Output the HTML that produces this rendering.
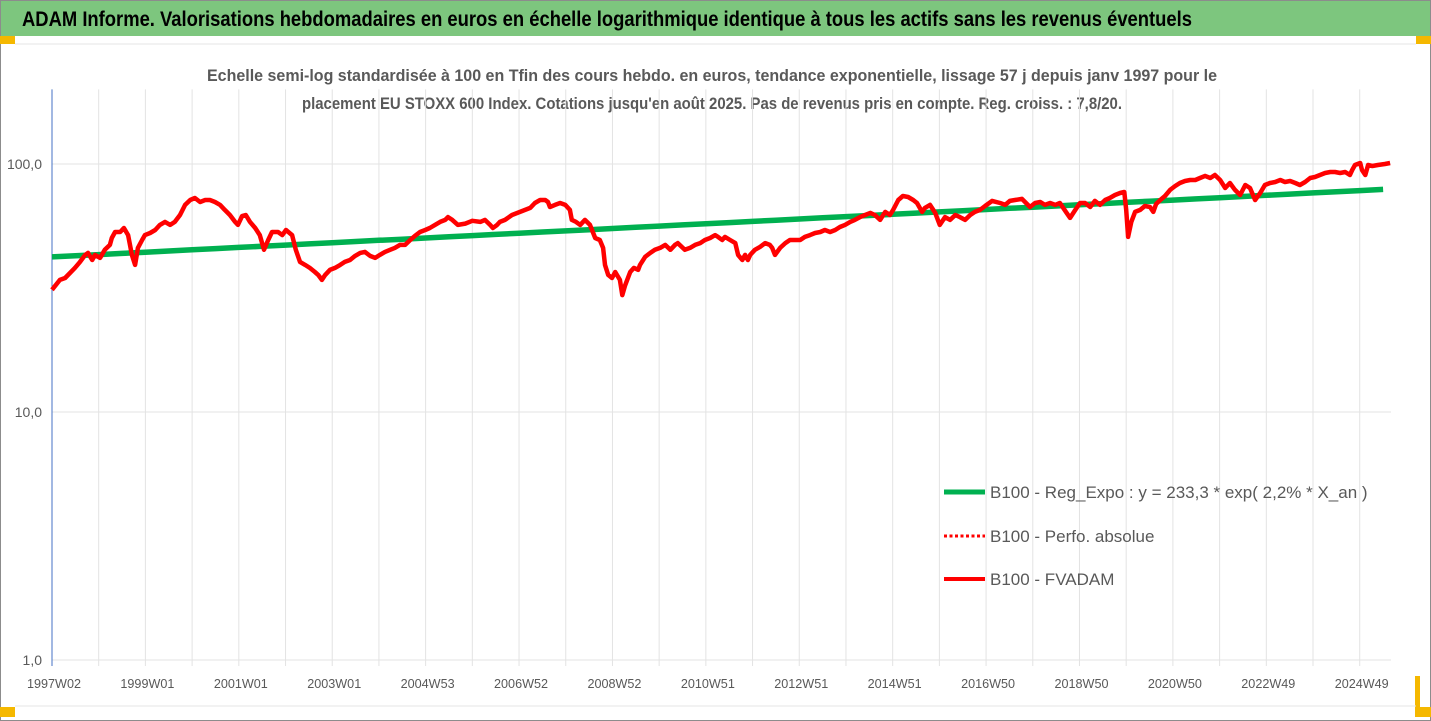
<!DOCTYPE html>
<html><head><meta charset="utf-8"><style>
html,body{margin:0;padding:0;background:#fff}
svg{display:block;font-family:"Liberation Sans",sans-serif}
</style></head><body>
<svg id="chart" width="1431" height="721" viewBox="0 0 1431 721">
<rect x="0.5" y="0.5" width="1430" height="720" fill="#fff" stroke="#8c8c8c"/>
<rect x="1" y="1" width="1429" height="35" fill="#7dc67e"/>
<text x="22" y="26" font-size="21" font-weight="bold" fill="#000" textLength="1170" lengthAdjust="spacingAndGlyphs">ADAM Informe. Valorisations hebdomadaires en euros en échelle logarithmique identique à tous les actifs sans les revenus éventuels</text>
<rect x="0" y="36" width="15" height="8" fill="#f5b800"/>
<rect x="1416" y="36" width="15" height="8" fill="#f5b800"/>
<rect x="0" y="707" width="15" height="10" fill="#f5b800"/>
<rect x="1415" y="676" width="5" height="40" fill="#f5b800"/>
<rect x="1415" y="707" width="16" height="10" fill="#f5b800"/>
<line x1="15" y1="44" x2="1416" y2="44" stroke="#e6e6e6"/>
<line x1="15" y1="706" x2="1416" y2="706" stroke="#e6e6e6"/>
<text x="712" y="81" font-size="17" font-weight="bold" fill="#595959" text-anchor="middle" textLength="1010" lengthAdjust="spacingAndGlyphs">Echelle semi-log standardisée à 100 en Tfin des cours hebdo. en euros, tendance exponentielle, lissage 57 j depuis janv 1997 pour le</text>
<text x="712" y="109" font-size="17" font-weight="bold" fill="#595959" text-anchor="middle" textLength="820" lengthAdjust="spacingAndGlyphs">placement EU STOXX 600 Index. Cotations jusqu'en août 2025. Pas de revenus pris en compte. Reg. croiss. : 7,8/20.</text>
<g id="grid"></g>
<g id="axes"></g>
<g id="series"></g>
<g>
<line x1="944" y1="492" x2="985" y2="492" stroke="#00b050" stroke-width="5"/>
<text x="990" y="498" font-size="17" fill="#595959">B100 - Reg_Expo : y = 233,3 * exp( 2,2% *  X_an )</text>
<line x1="944" y1="536" x2="985" y2="536" stroke="#ff0000" stroke-width="3" stroke-dasharray="3,2.5"/>
<text x="990" y="542" font-size="17" fill="#595959">B100 - Perfo. absolue</text>
<line x1="944" y1="579" x2="985" y2="579" stroke="#ff0000" stroke-width="4"/>
<text x="990" y="585" font-size="17" fill="#595959">B100 - FVADAM</text>
</g>
</svg>
<script>
const years = [1997.00,1997.17,1997.28,1997.49,1997.60,1997.71,1997.77,1997.86,1997.92,1998.03,1998.13,1998.24,1998.28,1998.35,1998.46,1998.54,1998.63,1998.71,1998.78,1998.84,1998.93,1998.99,1999.10,1999.21,1999.31,1999.42,1999.53,1999.63,1999.74,1999.85,1999.96,2000.06,2000.17,2000.28,2000.38,2000.49,2000.60,2000.70,2000.81,2000.92,2000.98,2001.07,2001.15,2001.24,2001.35,2001.45,2001.54,2001.63,2001.71,2001.84,2001.93,2002.01,2002.14,2002.22,2002.31,2002.42,2002.52,2002.63,2002.70,2002.78,2002.85,2002.95,2003.06,2003.17,2003.27,2003.38,2003.49,2003.60,2003.70,2003.81,2003.92,2004.02,2004.13,2004.24,2004.34,2004.45,2004.56,2004.67,2004.77,2004.88,2004.99,2005.09,2005.20,2005.31,2005.42,2005.48,2005.57,2005.69,2005.85,2006.00,2006.17,2006.27,2006.38,2006.44,2006.53,2006.59,2006.70,2006.85,2007.02,2007.13,2007.24,2007.34,2007.45,2007.56,2007.62,2007.66,2007.77,2007.88,2007.99,2008.09,2008.13,2008.22,2008.31,2008.41,2008.52,2008.63,2008.73,2008.80,2008.84,2008.91,2008.99,2009.06,2009.16,2009.21,2009.27,2009.38,2009.46,2009.55,2009.59,2009.70,2009.81,2009.91,2010.02,2010.13,2010.24,2010.34,2010.40,2010.55,2010.66,2010.77,2010.88,2010.98,2011.09,2011.20,2011.26,2011.35,2011.41,2011.52,2011.63,2011.69,2011.78,2011.84,2011.90,2011.95,2012.05,2012.16,2012.27,2012.37,2012.42,2012.48,2012.59,2012.70,2012.80,2013.02,2013.12,2013.23,2013.34,2013.45,2013.55,2013.66,2013.77,2013.87,2013.98,2014.09,2014.19,2014.30,2014.41,2014.52,2014.62,2014.73,2014.84,2014.94,2015.01,2015.12,2015.22,2015.33,2015.44,2015.52,2015.63,2015.69,2015.80,2015.91,2016.01,2016.12,2016.23,2016.34,2016.44,2016.55,2016.66,2016.76,2016.87,2016.98,2017.13,2017.30,2017.41,2017.51,2017.62,2017.77,2017.94,2018.05,2018.16,2018.26,2018.37,2018.48,2018.58,2018.71,2018.80,2018.91,2019.01,2019.12,2019.23,2019.33,2019.44,2019.55,2019.65,2019.76,2019.87,2019.96,2020.00,2020.04,2020.11,2020.19,2020.30,2020.40,2020.51,2020.58,2020.64,2020.73,2020.83,2020.94,2021.05,2021.15,2021.26,2021.37,2021.48,2021.58,2021.69,2021.80,2021.90,2022.01,2022.12,2022.22,2022.33,2022.44,2022.55,2022.65,2022.76,2022.87,2022.97,2023.08,2023.19,2023.30,2023.40,2023.51,2023.62,2023.72,2023.83,2023.94,2024.04,2024.15,2024.26,2024.37,2024.47,2024.58,2024.69,2024.79,2024.84,2024.90,2025.01,2025.05,2025.12,2025.18,2025.27,2025.39,2025.54,2025.65];
const fvadam = [31.1,34.1,34.7,38.1,40.3,43.0,43.8,41.0,43.0,41.8,45.1,47.2,50.3,53.2,53.2,55.2,51.7,43.0,39.2,45.9,49.4,51.7,52.7,54.2,56.8,58.4,56.8,58.4,62.3,68.4,71.6,72.9,70.3,71.6,71.6,70.3,68.4,65.3,62.3,58.4,56.8,61.7,62.3,58.4,55.2,51.7,45.1,49.4,53.2,53.2,51.7,54.2,51.7,45.1,40.3,39.2,38.1,36.7,35.7,34.1,35.7,37.4,38.1,39.2,40.3,41.0,42.6,43.8,44.2,42.6,41.8,43.0,44.2,45.1,45.9,47.2,47.2,49.4,51.3,53.2,54.2,55.2,56.8,58.4,59.5,61.1,59.5,56.8,57.5,59.0,58.4,59.5,56.8,55.2,56.8,58.4,59.5,62.3,64.1,65.3,66.5,69.6,71.6,71.6,70.3,67.1,68.4,69.6,68.4,65.3,59.5,58.4,56.8,59.5,56.8,50.3,49.4,45.9,39.2,35.7,34.7,36.7,34.1,29.6,32.4,36.7,38.1,37.4,39.2,42.2,43.8,45.1,45.9,47.2,45.1,47.2,48.0,45.1,45.9,47.2,48.0,49.4,50.3,51.7,50.8,49.4,50.8,49.4,48.0,43.0,41.0,43.0,41.0,43.0,45.1,46.3,48.0,47.2,45.9,43.0,45.9,48.0,49.4,49.4,50.8,51.7,52.7,53.2,54.2,53.2,54.2,55.7,56.8,58.4,59.5,61.1,62.3,63.5,62.3,59.5,64.1,62.3,65.3,71.6,74.3,73.6,71.6,69.6,64.1,66.5,68.4,63.5,56.8,61.1,59.5,62.3,61.1,59.5,62.3,64.1,65.3,67.7,71.0,69.6,68.4,71.0,71.6,72.3,67.1,69.6,70.3,68.4,69.6,68.4,69.6,64.1,60.6,65.3,69.6,69.6,67.1,71.0,68.4,71.6,72.9,75.0,76.4,77.1,65.3,50.8,58.4,64.1,65.3,67.7,67.1,64.1,69.0,71.6,74.3,78.6,81.5,83.8,85.4,86.2,86.2,87.8,89.5,87.8,90.3,86.2,80.0,83.8,78.6,75.0,82.3,80.0,71.6,76.4,82.3,83.8,84.6,86.2,84.6,85.4,83.8,82.3,84.6,87.8,88.6,90.3,92.0,92.8,92.8,92.0,92.8,90.3,94.6,99.1,100.9,94.6,90.3,99.1,98.2,99.1,100,100.9];
const regParams = [42.2, 0.022]; // value at 1997, continuous annual growth (2,2%)
const yTickValues = [1, 10, 100];
const yTickLabels = ["1,0", "10,0", "100,0"];
const xTickYears = [1997,1999,2001,2003,2005,2007,2009,2011,2013,2015,2017,2019,2021,2023,2025];
const xTickLabels = ["1997W02","1999W01","2001W01","2003W01","2004W53","2006W52","2008W52","2010W51","2012W51","2014W51","2016W50","2018W50","2020W50","2022W49","2024W49"];

const NS = "http://www.w3.org/2000/svg";
const X0 = 52, X1 = 1391, T0 = 1997.0, T1 = 2025.67;
const Y1v = 164, Ylog = 248;
function xs(t){ return X0 + (t - T0) * (X1 - X0) / (T1 - T0); }
function ys(v){ return Y1v + (2 - Math.log10(v)) * Ylog; }
function mk(tag, attrs, parent){ const e = document.createElementNS(NS, tag); for (const k in attrs) e.setAttribute(k, attrs[k]); parent.appendChild(e); return e; }

const grid = document.getElementById('grid'), axes = document.getElementById('axes'), series = document.getElementById('series');
const yTop = ys(200), yBot = ys(1);
for (let y = Math.ceil(T0); y <= T1; y++) {
  const gl = mk('line', {x1: xs(y), x2: xs(y), y1: yTop, y2: yBot + 6, stroke: '#e3e3e3', 'stroke-width': 1}, grid);
  
  
}
yTickValues.forEach((v, i) => {
  const gl = mk('line', {x1: X0, x2: X1, y1: ys(v), y2: ys(v), stroke: '#e3e3e3', 'stroke-width': 1}, grid);
  
  
  const t = mk('text', {x: 42, y: ys(v) + 5, 'font-size': 14, fill: '#595959', 'text-anchor': 'end'}, axes);
  t.textContent = yTickLabels[i];
  
  
});
const ax = mk('line', {x1: X0, x2: X0, y1: yTop, y2: yBot + 6, stroke: '#4472c4', 'stroke-width': 1}, axes);


xTickYears.forEach((yr, i) => {
  const t = mk('text', {x: xs(yr) + 2, y: 688, 'font-size': 13, fill: '#595959', 'text-anchor': 'middle', textLength: 54, lengthAdjust: 'spacingAndGlyphs'}, axes);
  t.textContent = xTickLabels[i];
  
  
});
let rp = '';
for (let y = T0; y <= T1 + 0.001; y += 0.5) { const yy = Math.min(y, T1); rp += (rp ? 'L' : 'M') + xs(yy).toFixed(1) + ',' + ys(regParams[0] * Math.exp(regParams[1] * (yy - T0))).toFixed(1); }
const reg = mk('path', {d: rp, fill: 'none', stroke: '#00b050', 'stroke-width': 5.5}, series);


let fp = '';
years.forEach((t, i) => { fp += (i ? 'L' : 'M') + xs(t).toFixed(1) + ',' + ys(fvadam[i]).toFixed(1); });
const fl = mk('path', {d: fp, fill: 'none', stroke: '#ff0000', 'stroke-width': 4.5, 'stroke-linejoin': 'round'}, series);


</script>
</body></html>
